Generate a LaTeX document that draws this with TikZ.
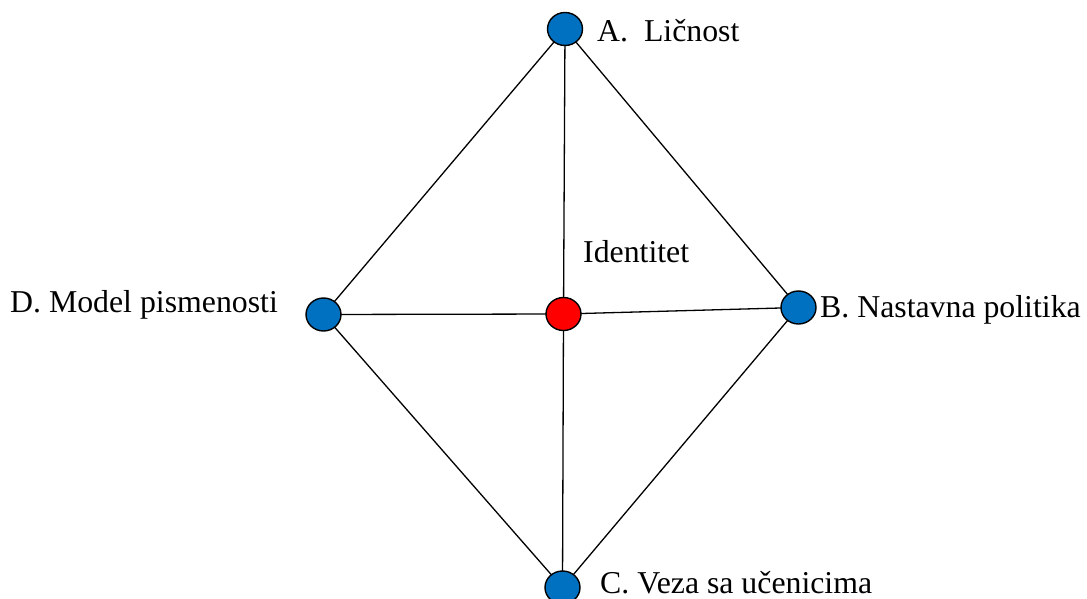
\documentclass[tikz,border=0pt]{standalone}
\usepackage{fontspec}
\setmainfont{Liberation Serif}
\usetikzlibrary{shapes.geometric}
\definecolor{nodeblue}{RGB}{0,112,192}
\definecolor{nodered}{RGB}{255,0,0}
\begin{document}
\begin{tikzpicture}[x=1pt,y=-1pt,
  dot/.style={ellipse,draw=black,line width=1.4pt,minimum width=35pt,minimum height=33pt,inner sep=0pt},
  bluedot/.style={dot,fill=nodeblue},
  reddot/.style={dot,fill=nodered},
  lbl/.style={anchor=base west,inner sep=0pt,font=\fontsize{31.8}{38}\selectfont},
  conn/.style={line width=1.3pt,black}]
\useasboundingbox (0,0) rectangle (1087,599);
\coordinate (a) at (565,29);
\coordinate (d) at (323.5,314.5);
\coordinate (m) at (563.5,314);
\coordinate (b) at (798.5,307.5);
\coordinate (c) at (562.5,587.5);
\draw[conn] (a) -- (d);
\draw[conn] (a) -- (b);
\draw[conn] (a) -- (m);
\draw[conn] (d) -- (m);
\draw[conn] (m) -- (b);
\draw[conn] (m) -- (c);
\draw[conn] (d) -- (c);
\draw[conn] (b) -- (c);
\node[bluedot] (na) at (a) {};
\node[bluedot] (nd) at (d) {};
\node[reddot] (nm) at (m) {};
\node[bluedot] (nb) at (b) {};
\node[bluedot] (nc) at (c) {};
\node[lbl] (la) at (597,42) {A.\ \ Ličnost};
\node[lbl] (lb) at (820,317) {B. Nastavna politika};
\node[lbl] (lc) at (600,593) {C. Veza sa učenicima};
\node[lbl] (ld) at (10,312) {D. Model pismenosti};
\node[lbl] (li) at (583,262) {Identitet};
\end{tikzpicture}
\end{document}
